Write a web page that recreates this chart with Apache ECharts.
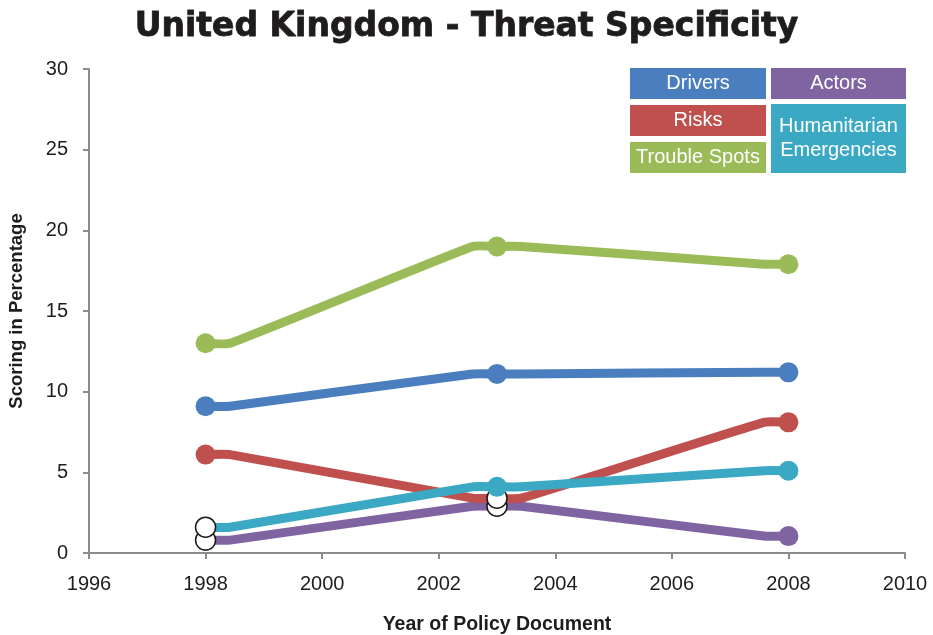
<!DOCTYPE html>
<html>
<head>
<meta charset="utf-8">
<title>United Kingdom - Threat Specificity</title>
<script src="https://cdn.jsdelivr.net/npm/echarts@6/dist/echarts.min.js"></script>
<style>
  html, body { margin: 0; padding: 0; background: #ffffff; }
  #chart { width: 933px; height: 635px; }
</style>
</head>
<body>
<div id="chart"></div>
<script>
// Policy document years and scores (percent) per threat category
const years = [1998, 2003, 2008];
const drivers = [9.1, 11.1, 11.2];
const risks = [6.1, 3.4, 8.1];
const troubleSpots = [13.0, 19.0, 17.9];
const actors = [0.8, 2.9, 1.05];
const humanitarian = [1.6, 4.1, 5.1];

// Points shown with a hollow (white) marker, as [seriesName, yearIndex]
const hollowPoints = [
  ['Humanitarian Emergencies', 0],
  ['Actors', 0],
  ['Risks', 1],
  ['Actors', 1]
];

const xTicks = [1996, 1998, 2000, 2002, 2004, 2006, 2008, 2010];
const yTicks = [0, 5, 10, 15, 20, 25, 30];

const COLORS = {
  'Drivers': '#4a7ebe',
  'Risks': '#c0504d',
  'Trouble Spots': '#9bbb59',
  'Actors': '#8064a2',
  'Humanitarian Emergencies': '#3ba9c3'
};

const seriesDefs = [
  { name: 'Actors', values: actors },
  { name: 'Risks', values: risks },
  { name: 'Humanitarian Emergencies', values: humanitarian },
  { name: 'Drivers', values: drivers },
  { name: 'Trouble Spots', values: troubleSpots }
];

// Half-width (in years) of the level run drawn through each point
const FLAT = 0.42;

const FONT = '"Liberation Sans", Arial, sans-serif';
const INK = '#1f1c1d';

function lineSeries(def) {
  const color = COLORS[def.name];
  return {
    type: 'custom',
    name: def.name,
    coordinateSystem: 'cartesian2d',
    z: 2,
    data: years.map((y, i) => [y, def.values[i]]),
    renderItem: function (params, api) {
      const i = params.dataIndex;
      if (i >= years.length - 1) return null;
      const a = def.values[i], b = def.values[i + 1];
      const pts = [
        api.coord([years[i], a]),
        api.coord([years[i] + FLAT, a]),
        api.coord([years[i + 1] - FLAT, b]),
        api.coord([years[i + 1], b])
      ];
      return {
        type: 'polyline',
        shape: { points: pts, smooth: 0.15 },
        style: { stroke: color, lineWidth: 9, fill: null, lineJoin: 'round', lineCap: 'round' }
      };
    }
  };
}

function markerSeries(def) {
  const color = COLORS[def.name];
  return {
    type: 'scatter',
    name: def.name + ' markers',
    z: 5,
    symbol: 'circle',
    symbolSize: 20,
    silent: true,
    data: years.map((y, i) => {
      const hollow = hollowPoints.some(p => p[0] === def.name && p[1] === i);
      return {
        value: [y, def.values[i]],
        itemStyle: hollow
          ? { color: '#ffffff', borderColor: '#1a1a1a', borderWidth: 1.5, opacity: 1 }
          : { color: color, borderWidth: 0, opacity: 1 }
      };
    })
  };
}

const series = [];
seriesDefs.forEach(d => series.push(lineSeries(d)));
seriesDefs.filter(d => !hollowPoints.some(p => p[0] === d.name))
  .forEach(d => series.push(markerSeries(d)));
seriesDefs.filter(d => hollowPoints.some(p => p[0] === d.name))
  .forEach(d => series.push(markerSeries(d)));

// Key boxes: left column stacks three, right column two
const keyFont = '20px "Liberation Sans", Arial, sans-serif';
function keyBox(name, x, y, w, h) {
  return {
    type: 'group',
    left: x, top: y,
    children: [
      { type: 'rect', shape: { x: 0, y: 0, width: w, height: h }, style: { fill: COLORS[name] } },
      {
        type: 'text',
        style: {
          x: w / 2, y: h / 2,
          text: name === 'Humanitarian Emergencies' ? 'Humanitarian\nEmergencies' : name,
          font: keyFont, fill: '#ffffff', align: 'center', verticalAlign: 'middle', lineHeight: 24
        }
      }
    ]
  };
}

const chart = echarts.init(document.getElementById('chart'), null, { renderer: 'canvas' });
chart.setOption({
  animation: false,
  backgroundColor: '#ffffff',
  title: {
    text: 'United Kingdom - Threat Specificity',
    left: 'center',
    top: 6,
    textStyle: {
      fontFamily: '"DejaVu Sans", sans-serif',
      fontWeight: 'bold',
      fontSize: 33,
      color: INK,
      textBorderColor: INK,
      textBorderWidth: 0.8
    }
  },
  grid: { left: 89, right: 28, top: 69, bottom: 82, outerBoundsMode: 'none', containLabel: false },
  xAxis: {
    type: 'value',
    min: xTicks[0],
    max: xTicks[xTicks.length - 1],
    interval: 2,
    name: 'Year of Policy Document',
    nameLocation: 'middle',
    nameGap: 62,
    nameTextStyle: { fontFamily: FONT, fontWeight: 'bold', fontSize: 19.5, color: INK },
    axisLine: { show: true, lineStyle: { color: '#8c8c8c', width: 2 } },
    axisTick: { show: true, length: 6, lineStyle: { color: '#8c8c8c', width: 2 } },
    axisLabel: { margin: 21, fontFamily: FONT, fontSize: 20, color: INK, formatter: v => String(v) },
    splitLine: { show: false }
  },
  yAxis: {
    type: 'value',
    min: yTicks[0],
    max: yTicks[yTicks.length - 1],
    interval: 5,
    name: 'Scoring in Percentage',
    nameLocation: 'middle',
    nameGap: 63,
    nameTextStyle: { fontFamily: FONT, fontWeight: 'bold', fontSize: 18.5, color: INK },
    axisLine: { show: true, lineStyle: { color: '#8c8c8c', width: 2 } },
    axisTick: { show: true, length: 6, lineStyle: { color: '#8c8c8c', width: 2 } },
    axisLabel: { margin: 21, fontFamily: FONT, fontSize: 20, color: INK },
    splitLine: { show: false }
  },
  graphic: [
    keyBox('Drivers', 630, 68, 136, 31),
    keyBox('Risks', 630, 105, 136, 31),
    keyBox('Trouble Spots', 630, 142, 136, 31),
    keyBox('Actors', 771, 68, 135, 31),
    keyBox('Humanitarian Emergencies', 771, 104, 135, 69)
  ],
  series: series
});
</script>
</body>
</html>
